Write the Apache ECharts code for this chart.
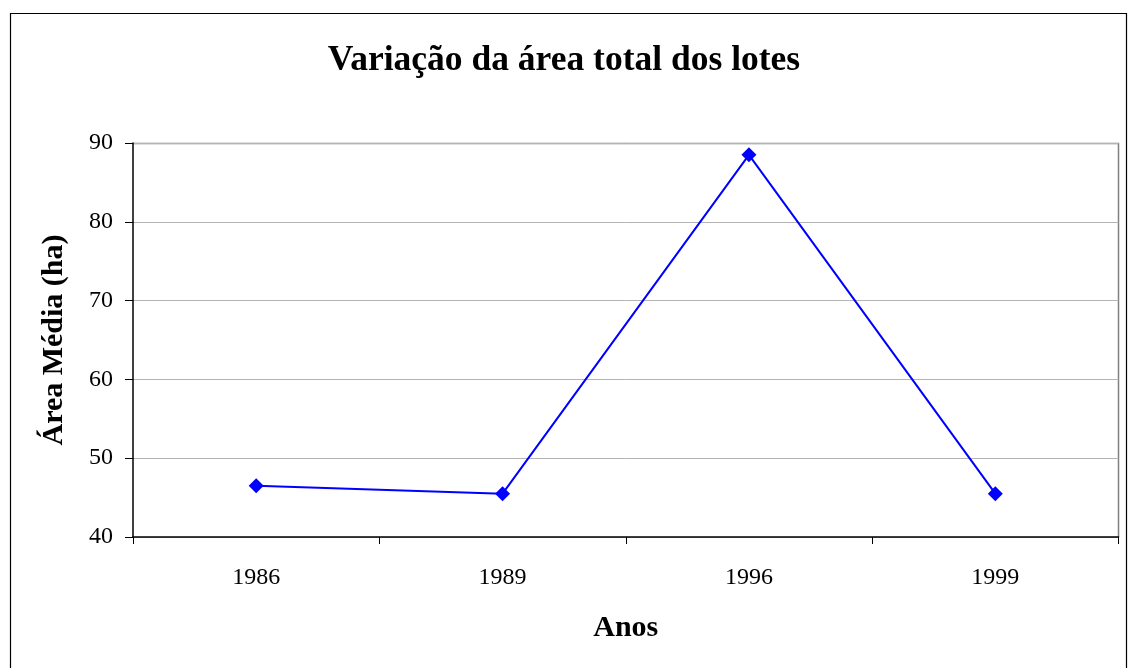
<!DOCTYPE html>
<html>
<head>
<meta charset="utf-8">
<script src="https://cdn.jsdelivr.net/npm/echarts@6/dist/echarts.min.js"></script>
<style>
html, body { margin: 0; padding: 0; background: #fff; }
#chart { width: 1128px; height: 668px; }
</style>
</head>
<body>
<div id="chart"></div>
<script>
// dados
var anos = ['1986', '1989', '1996', '1999'];
var areaMedia = [46.5, 45.5, 88.5, 45.5];
var yTicks = [40, 50, 60, 70, 80, 90];

var chart = echarts.init(document.getElementById('chart'), null, { renderer: 'canvas' });

var serif = '"Liberation Serif", "DejaVu Serif", serif';

var option = {
  animation: false,
  backgroundColor: '#fff',
  title: {
    text: 'Variação da área total dos lotes',
    left: 'center',
    top: 38,
    textStyle: { fontFamily: serif, fontSize: 35.5, fontWeight: 'bold', color: '#000' }
  },
  graphic: [{
    type: 'rect',
    shape: { x: 10.5, y: 13.5, width: 1116, height: 700 },
    style: { fill: 'none', stroke: '#000', lineWidth: 1.2 },
    silent: true,
    z: -1
  }, {
    // borda superior e direita da área do gráfico
    type: 'polyline',
    shape: { points: [[133, 143.5], [1118.5, 143.5], [1118.5, 537]] },
    style: { fill: 'none', stroke: '#808080', lineWidth: 1.5 },
    silent: true
  }],
  grid: { left: 133, top: 143, right: 9.5, bottom: 131, containLabel: false },
  xAxis: {
    type: 'category',
    data: anos,
    boundaryGap: true,
    name: 'Anos',
    nameLocation: 'middle',
    nameGap: 76,
    nameTextStyle: { fontFamily: serif, fontSize: 30, fontWeight: 'bold', color: '#000' },
    axisLine: { lineStyle: { color: '#000', width: 1.5 } },
    axisTick: { show: true, length: 7, inside: false, lineStyle: { color: '#000', width: 1 } },
    axisLabel: { fontFamily: serif, fontSize: 24, color: '#000', margin: 29 },
    splitLine: { show: false }
  },
  yAxis: {
    type: 'value',
    min: yTicks[0],
    max: yTicks[yTicks.length - 1],
    interval: 10,
    name: 'Área Média (ha)',
    nameLocation: 'middle',
    nameGap: 64,
    nameTextStyle: { fontFamily: serif, fontSize: 30, fontWeight: 'bold', color: '#000' },
    axisLine: { show: true, lineStyle: { color: '#000', width: 1.5 } },
    axisTick: { show: true, length: 8, inside: false, lineStyle: { color: '#000', width: 1 } },
    axisLabel: { fontFamily: serif, fontSize: 24, color: '#000', margin: 20 },
    splitLine: { show: true, lineStyle: { color: '#b4b4b4', width: 1 } }
  },
  series: [{
    type: 'line',
    data: areaMedia,
    symbol: 'diamond',
    symbolSize: 15,
    lineStyle: { color: '#0000ff', width: 2 },
    itemStyle: { color: '#0000ff' }
  }]
};

chart.setOption(option);
window.addEventListener('resize', chart.resize);
</script>
</body>
</html>
